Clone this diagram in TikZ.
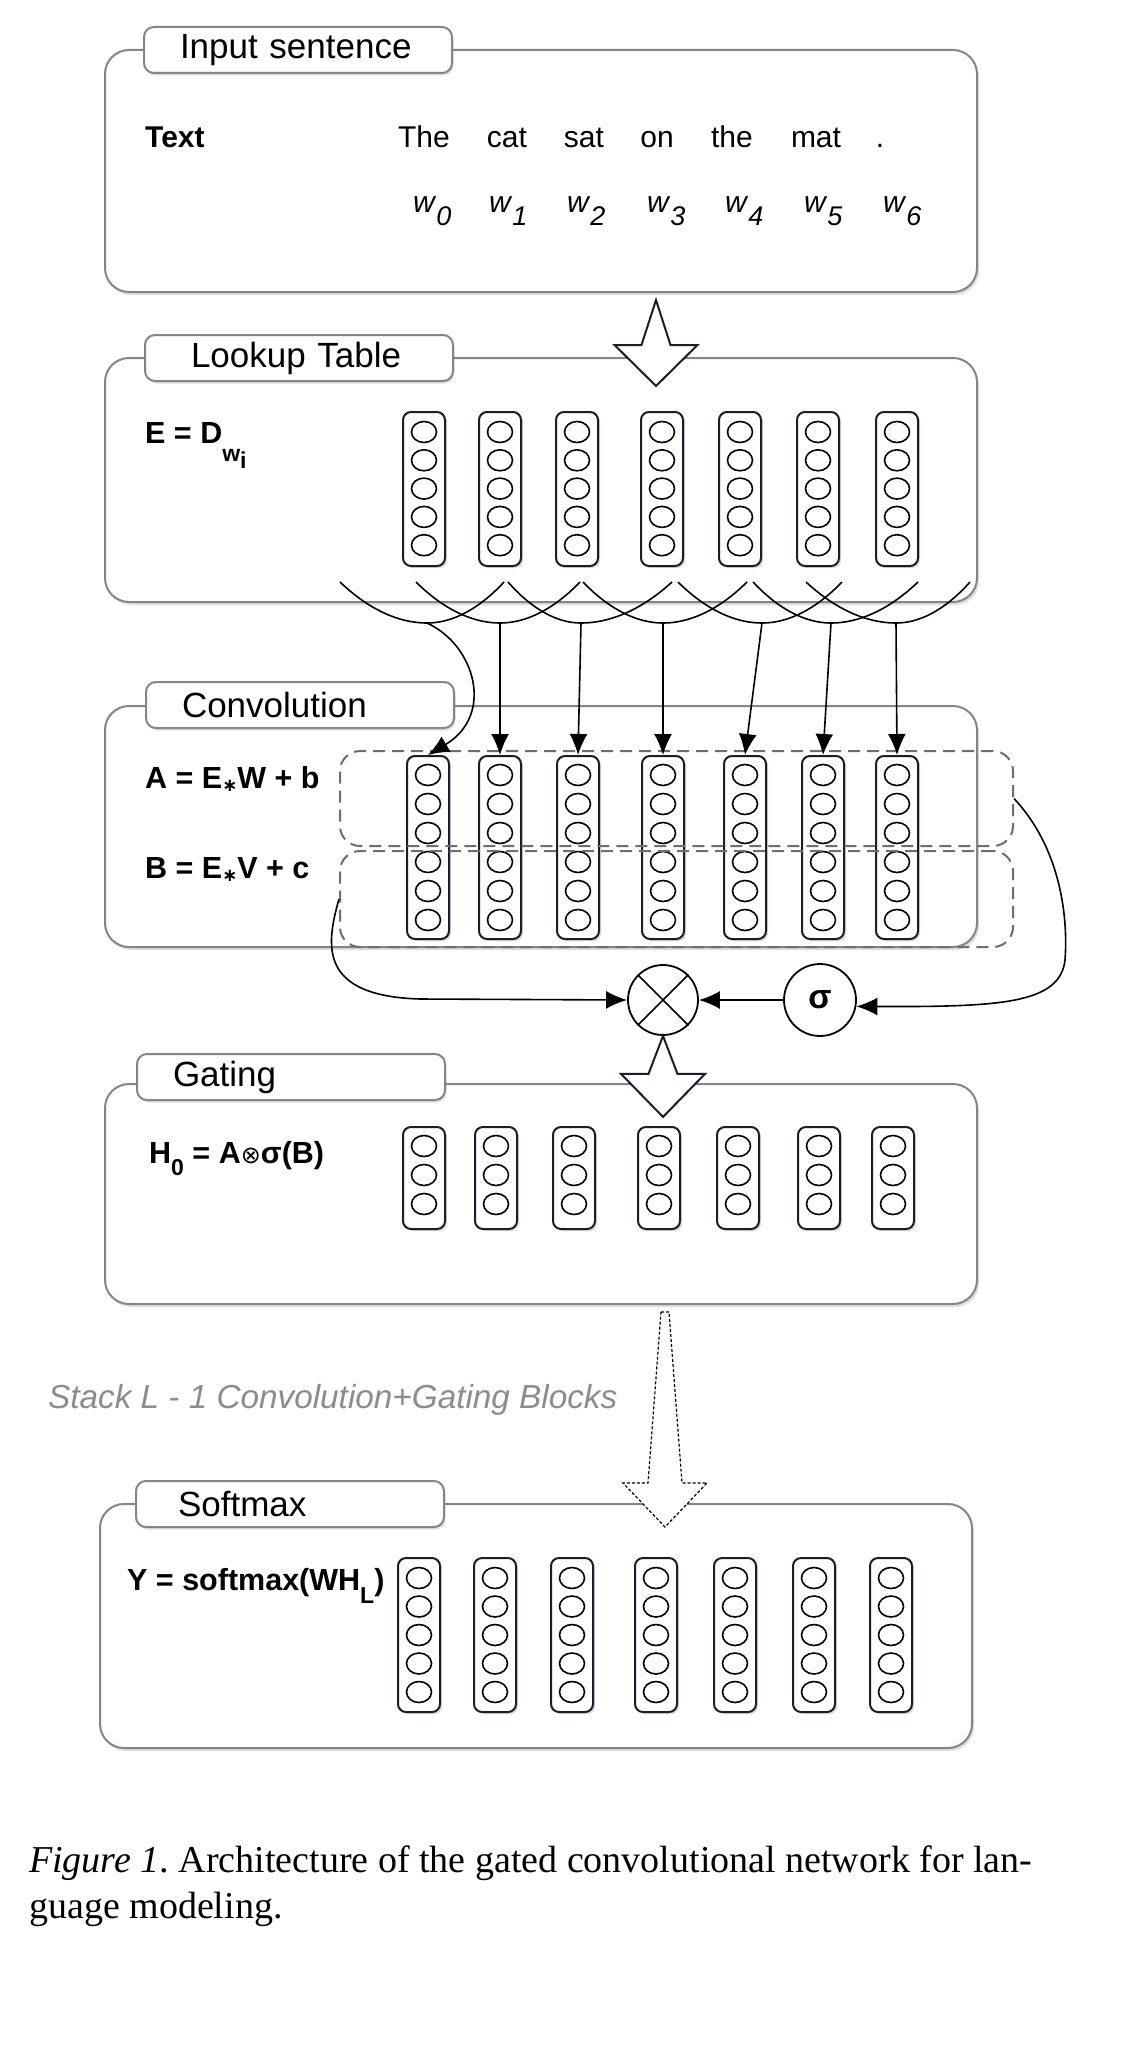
\documentclass[tikz,border=0pt]{standalone}
\usepackage{fontspec}
\setmainfont{Liberation Sans}
\newfontfamily\serifcap{Liberation Serif}
\newfontfamily\symfnt{DejaVu Sans}
\usetikzlibrary{arrows.meta,shapes.geometric,shadows,calc}
\definecolor{edgegray}{HTML}{858585}
\definecolor{navy}{HTML}{1C1C2E}
\definecolor{dashgray}{HTML}{6E6E6E}
\definecolor{stackgray}{HTML}{8C8C8C}
\newcommand{\fsz}[1]{\fontsize{#1}{#1}\selectfont}

\begin{document}
\begin{tikzpicture}[x=1pt, y=-1pt, >={Latex[length=21pt,width=18pt]}]
\tikzstyle{panel}=[draw=edgegray, line width=2pt, rounded corners=24pt, fill=white,
                   minimum width=872pt,
                   drop shadow={shadow xshift=2pt, shadow yshift=-3pt, opacity=0.25}]
\tikzstyle{tab}=[draw=edgegray, line width=2pt, rounded corners=10pt, fill=white,
                 minimum height=46pt, text width=236pt, inner xsep=36pt, align=left,
                 font=\fsz{35},
                 drop shadow={shadow xshift=1.5pt, shadow yshift=-2.5pt, opacity=0.25}]
\tikzstyle{vec}=[draw=navy, line width=2pt, rounded corners=8pt, fill=white,
                 minimum width=42pt, inner sep=0pt,
                 drop shadow={shadow xshift=2pt, shadow yshift=-2pt, opacity=0.3}]
\tikzstyle{unit}=[ellipse, draw=black, line width=1.6pt, minimum width=25pt,
                  minimum height=21pt, inner sep=0pt]
\tikzstyle{gatebox}=[draw=dashgray, line width=2pt, dash pattern=on 12pt off 7pt,
                     rounded corners=20pt]
\tikzstyle{op}=[circle, draw=black, line width=1.8pt, inner sep=0pt, fill=white]
\tikzstyle{wire}=[draw=black, line width=1.6pt]
\tikzstyle{hollow}=[draw=navy, line width=2pt, fill=white, line join=miter]
\tikzstyle{lbl}=[inner sep=0pt, font=\bfseries\fsz{30.5}]
\tikzstyle{word}=[inner sep=0pt, font=\fsz{30}]

\fill[white] (0,0) rectangle (1134,2058);
\useasboundingbox (0,0) rectangle (1134,2058);

% panels
\node[panel, minimum height=242pt] (input) at (541,171) {};
\node[panel, minimum height=244pt] (lookup) at (541,480) {};
\node[panel, minimum height=241pt] (conv) at (541,826.5) {};
\node[panel, minimum height=220pt] (gating) at (541,1194) {};
\node[panel, minimum height=244pt] (softmax) at (536,1626) {};

\node[tab] (intab) at (298,50) {Input sentence};
\node[tab] (lktab) at (299,358) {\hspace{10pt}Lookup Table};
\node[tab] (cvtab) at (300,705) {Convolution};
\node[tab] (gttab) at (291,1077) {Gating};
\node[tab] (smtab) at (290,1504) {\hspace{6pt}Softmax};

% input sentence
\node[lbl, font=\bfseries\fsz{30}, anchor=base west] (txt) at (145,147) {Text};
\foreach \w/\x [count=\i from 0] in {The/424, cat/507, sat/584, on/657, the/732, mat/816, ./880}
  \node[word, anchor=base] (word\i) at (\x,147) {\w};
\foreach \x [count=\i from 0] in {413,489,567,647,725,804,883}
  \node[word, anchor=base west] (tok\i) at (\x,212)
    {\textit{w}\raisebox{-13pt}{\fsz{27}\textit{\i}}};

% lookup table
\node[lbl, anchor=base west] (eqE) at (145,443)
  {E = D\raisebox{-18pt}{\fsz{23}w\raisebox{-7pt}{i}}};
\foreach \x [count=\i from 0] in {424,500,577,662,740,818,897}{
  \node[vec, minimum height=154pt] (lk\i) at (\x,489) {};
  \foreach \k in {0,...,4}
    \node[unit] (lk\i-\k) at (\x,{432+28.3*\k}) {};
}

% convolution
\node[lbl, anchor=base west] (eqA) at (145,788)
  {A = E\raisebox{-3pt}{\symfnt\fsz{18}∗}W + b};
\node[lbl, anchor=base west] (eqB) at (145,878)
  {B = E\raisebox{-3pt}{\symfnt\fsz{18}∗}V + c};
\foreach \x [count=\i from 0] in {428,500,578,663,745,823,897}{
  \node[vec, minimum height=183pt] (cv\i) at (\x,847.5) {};
  \foreach \k in {0,...,5}
    \node[unit] (cv\i-\k) at (\x,{775+29*\k}) {};
}
\node[gatebox, minimum width=673pt, minimum height=95pt] (Abox) at (676.5,798.5) {};
\node[gatebox, minimum width=673pt, minimum height=96pt] (Bbox) at (676.5,899) {};

% kernel arcs
\foreach \l/\b/\r [count=\i from 0] in {340/427/504, 416/500/580, 508/581/672,
    583/663/747, 678/762/842, 753/831/918, 806/896/970}{
  \coordinate (arcL\i) at (\l,582);
  \coordinate (arcB\i) at (\b,623);
  \coordinate (arcR\i) at (\r,582);
  \draw[wire] (arcL\i) parabola bend (arcB\i) (arcR\i);
}
\draw[wire,->] (arcB0) .. controls (475,645) and (495,715) .. (cv0.north);
\foreach \i in {1,...,6}
  \draw[wire,->] (arcB\i) -- (cv\i.north);

% gate
\node[op, minimum size=70pt] (mul) at (663,1000) {};
\draw[wire] (mul.north west) -- (mul.south east) (mul.north east) -- (mul.south west);
\node[op, minimum size=72pt, font=\bfseries\fsz{34}] (sig) at (820,1000) {σ};
\draw[wire,->] (sig) -- (mul);
\draw[wire,->] (Bbox.west) .. controls (326,945) and (318,996) .. (420,999) -- (mul.west);
\draw[wire,->] (Abox.east) .. controls (1062,850) and (1068,920) .. (1065,960)
  .. controls (1060,1004) and (1000,1007) .. (sig.-10);

% block arrows
\coordinate (in2lk) at (656,300);
\draw[hollow] (in2lk) -- ++(14.5,45) -- ++(27,0) -- ++(-41.5,41) -- ++(-41.5,-41)
  -- ++(27,0) -- cycle;
\draw[hollow] (mul.south) -- ++(14.5,38) -- ++(27.5,0) -- ++(-42,43) -- ++(-42,-43)
  -- ++(27.5,0) -- cycle;
\coordinate (stk) at (665,1312);
\draw[hollow, draw=black, line width=1.2pt, dash pattern=on 3pt off 2pt]
  ($(stk)+(-4,0)$) -- ++(8,0) -- ++(13,171) -- ++(25,0) -- ++(-42,44) -- ++(-42,-44)
  -- ++(25,0) -- cycle;

% gating
\node[lbl, anchor=base west] (eqH) at (149,1163)
  {H\raisebox{-12pt}{\fsz{23}0} = A{\symfnt\mdseries\fsz{24}⊗}σ(B)};
\foreach \x [count=\i from 0] in {424,496,574,659,738,819,893}{
  \node[vec, minimum height=102pt] (gt\i) at (\x,1178) {};
  \foreach \k in {0,...,2}
    \node[unit] (gt\i-\k) at (\x,{1146+29*\k}) {};
}

\node[anchor=base west, inner sep=0pt, text=stackgray, font=\itshape\fsz{33.3}] (stack)
  at (48,1408) {Stack L - 1 Convolution+Gating Blocks};

% softmax
\node[lbl, anchor=base west] (eqY) at (127,1590)
  {Y = softmax(WH\raisebox{-13pt}{\fsz{23}L})};
\foreach \x [count=\i from 0] in {419,495,572,656,735,814,891}{
  \node[vec, minimum height=154pt] (sm\i) at (\x,1635) {};
  \foreach \k in {0,...,4}
    \node[unit] (sm\i-\k) at (\x,{1578+28.5*\k}) {};
}

\node[anchor=base west, inner sep=0pt, align=left, font=\serifcap\fsz{38}] (caption)
  at (29,1918) {\textit{Figure 1}.\ Architecture of the gated convolutional network for lan-\\[8pt]guage modeling.};
\end{tikzpicture}
\end{document}
